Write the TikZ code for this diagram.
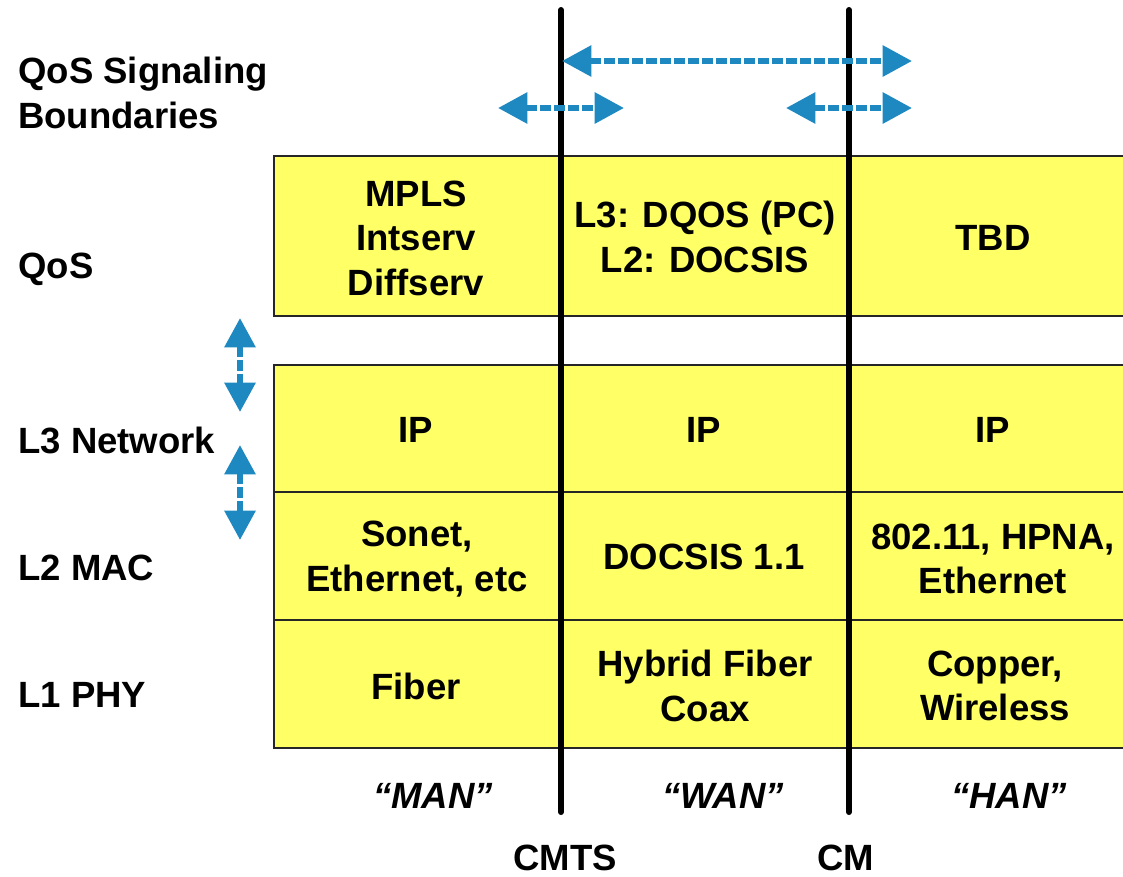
\documentclass[tikz,border=0pt]{standalone}
\usepackage{fontspec}
\setmainfont{Liberation Sans}
\usetikzlibrary{arrows.meta}
\definecolor{cellfill}{RGB}{255,255,102}
\definecolor{sigblue}{RGB}{30,136,192}

\begin{document}
\begin{tikzpicture}[x=0.75pt,y=-0.75pt,
  lbl/.style={font=\fontsize{27.4}{33.4}\selectfont\bfseries, inner sep=0pt},
  cell/.style={lbl, align=center},
  rowlabel/.style={lbl, anchor=west, align=left},
  zone/.style={lbl, font=\fontsize{27.4}{33.4}\selectfont\bfseries\itshape},
  cellbox/.style={draw=black!85, line width=1.3pt, fill=cellfill},
  boundary/.style={line width=4.5pt, line cap=round},
  sig/.style={draw=sigblue, line width=4.5pt,
    dash pattern=on 8pt off 2.5pt,
    {Triangle[length=22pt,width=22.5pt]}-{Triangle[length=22pt,width=22.5pt]}}
]
\useasboundingbox (0,0) rectangle (1123,876);

% layer table
\draw[cellbox] (274,156) rectangle (1126,316);
\draw[cellbox] (274,365) rectangle (1126,492);
\draw[cellbox] (274,492) rectangle (1126,620);
\draw[cellbox] (274,620) rectangle (1126,748);

% network boundaries
\coordinate (cmtsTop) at (561,10);
\coordinate (cmtsBot) at (561,812);
\coordinate (cmTop) at (849,10);
\coordinate (cmBot) at (849,812);
\draw[boundary] (cmtsTop) -- (cmtsBot);
\draw[boundary] (cmTop) -- (cmBot);

% row labels
\node[rowlabel] (sigLbl) at (18,93) {QoS Signaling\\Boundaries};
\node[rowlabel] (qosLbl) at (18,269) {QoS};
\node[rowlabel] (l3Lbl) at (18,440) {L3 Network};
\node[rowlabel] (l2Lbl) at (18,568) {L2 MAC};
\node[rowlabel] (l1Lbl) at (18,695) {L1 PHY};

% QoS row
\node[cell] (qosMan) at (416,238) {MPLS\\Intserv\\Diffserv};
\node[cell] (qosWan) at (705,237) {L3: DQOS (PC)\\L2: DOCSIS};
\node[cell] (qosHan) at (993,238) {TBD};

% L3 row
\node[cell] (l3Man) at (416,430) {IP};
\node[cell] (l3Wan) at (704,430) {IP};
\node[cell] (l3Han) at (993,430) {IP};

% L2 row
\node[cell] (l2Man) at (417,559) {Sonet,\\Ethernet, etc};
\node[cell] (l2Wan) at (704,557) {DOCSIS 1.1};
\node[cell] (l2Han) at (993,559) {802.11, HPNA,\\Ethernet};

% L1 row
\node[cell] (l1Man) at (416,686) {Fiber};
\node[cell] (l1Wan) at (705,686) {Hybrid Fiber\\Coax};
\node[cell] (l1Han) at (995,686) {Copper,\\Wireless};

% zones
\node[zone] (man) at (433,796) {“MAN”};
\node[zone] (wan) at (723,796) {“WAN”};
\node[zone] (han) at (1009,796) {“HAN”};

% boundary devices
\node[lbl] (cmts) at (565,858) {CMTS};
\node[lbl] (cm) at (846,858) {CM};

% signaling spans
\coordinate (sigA1) at (562,61);
\coordinate (sigA2) at (912,61);
\coordinate (sigB1) at (498,108);
\coordinate (sigB2) at (624,108);
\coordinate (sigC1) at (786,108);
\coordinate (sigC2) at (912,108);
\draw[sig] (sigA1) -- (sigA2);
\draw[sig] (sigB1) -- (sigB2);
\draw[sig] (sigC1) -- (sigC2);

% layer-to-layer signaling
\coordinate (vA1) at (240,318);
\coordinate (vA2) at (240,412);
\coordinate (vB1) at (240,445);
\coordinate (vB2) at (240,540);
\draw[sig] (vA1) -- (vA2);
\draw[sig] (vB1) -- (vB2);
\end{tikzpicture}
\end{document}
